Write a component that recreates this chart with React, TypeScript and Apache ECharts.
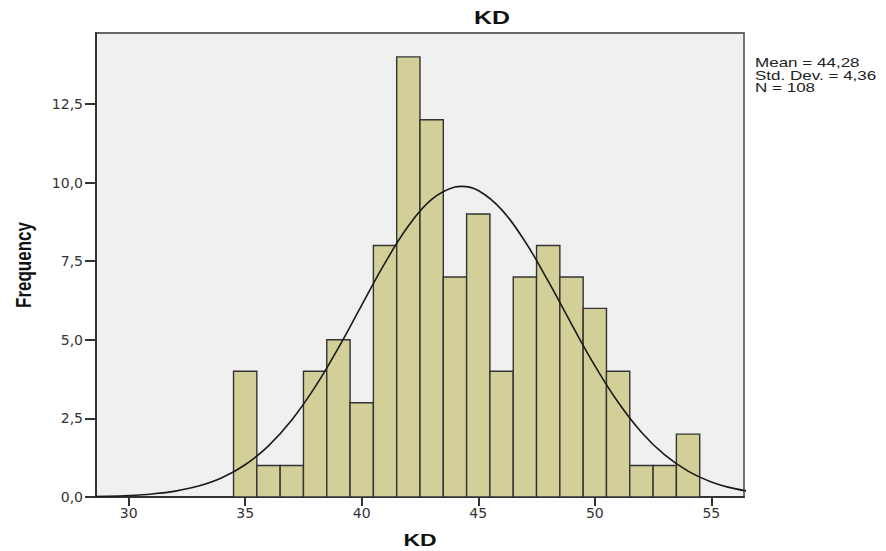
import React, { useEffect, useRef } from "react";
import * as echarts from "echarts";

// Histogram bins (bin centre, frequency)
const binCenters = [35, 36, 37, 38, 39, 40, 41, 42, 43, 44, 45, 46, 47, 48, 49, 50, 51, 52, 53, 54];
const binCounts = [4, 1, 1, 4, 5, 3, 8, 14, 12, 7, 9, 4, 7, 8, 7, 6, 4, 1, 1, 2];

// Fitted normal curve
const curveX = [28, 29, 30, 31, 32, 33, 34, 35, 36, 37, 38, 39, 40, 41, 42, 43, 44, 44.28, 45, 46, 47, 48, 49, 50, 51, 52, 53, 54, 55, 56, 57];
const curveY = [0.009, 0.021, 0.046, 0.096, 0.187, 0.348, 0.613, 1.026, 1.628, 2.451, 3.502, 4.747, 6.104, 7.447, 8.619, 9.465, 9.862, 9.882, 9.748, 9.142, 8.135, 6.867, 5.5, 4.179, 3.013, 2.061, 1.337, 0.823, 0.481, 0.267, 0.14];

const xTicks = [30, 35, 40, 45, 50, 55];
const yTicks = [0, 2.5, 5, 7.5, 10, 12.5];
const statsLines = ["Mean = 44,28", "Std. Dev. = 4,36", "N = 108"];
const titleText = "KD";
const xName = "KD";
const yName = "Frequency";

const FONT = "'Liberation Sans', Arial, sans-serif";
const TICKFONT = "'DejaVu Sans', 'Liberation Sans', sans-serif";

export default function App() {
  const ref = useRef<HTMLDivElement>(null);
  useEffect(() => {
    if (!ref.current) return;
    const chart = echarts.init(ref.current, null, { renderer: "svg" });
    const barData = binCenters.map((c, i) => [c, binCounts[i]]);
    const curveData = curveX.map((x, i) => [x, curveY[i]]);
    chart.setOption({
      animation: false,
      backgroundColor: "#ffffff",
      textStyle: { fontFamily: FONT },
      grid: {
        left: 96,
        top: 33,
        right: 142,
        bottom: 54,
        show: true,
        backgroundColor: "#f0f0f0",
        borderColor: "#666",
        borderWidth: 1.8,
      },
      xAxis: {
        type: "value",
        min: 28.6,
        max: 56.4,
        axisLine: { show: true, onZero: false, lineStyle: { color: "#333", width: 2 } },
        axisTick: { show: true, length: 9, customValues: xTicks, lineStyle: { color: "#333", width: 2 } },
        axisLabel: {
          customValues: xTicks,
          color: "#333",
          fontSize: 14,
          fontFamily: TICKFONT,
          margin: 9,
        },
        splitLine: { show: false },
      },
      yAxis: {
        type: "value",
        min: 0,
        max: 14.76,
        axisLine: { show: true, lineStyle: { color: "#333", width: 2 } },
        axisTick: { show: true, length: 11, customValues: yTicks, lineStyle: { color: "#333", width: 2 } },
        axisLabel: {
          customValues: yTicks,
          color: "#333",
          fontSize: 14,
          fontFamily: TICKFONT,
          margin: 13,
          formatter: (v: number) => v.toFixed(1).replace(".", ","),
        },
        splitLine: { show: false },
      },
      series: [
        {
          type: "custom",
          data: barData,
          encode: { x: 0, y: 1 },
          renderItem: (params: any, api: any) => {
            const c = api.value(0);
            const v = api.value(1);
            const p0 = api.coord([c - 0.5, v]);
            const p1 = api.coord([c + 0.5, 0]);
            return {
              type: "rect",
              shape: { x: p0[0], y: p0[1], width: p1[0] - p0[0], height: p1[1] - p0[1] },
              style: { fill: "#d3cf98", stroke: "#333", lineWidth: 1.4 },
            };
          },
          z: 2,
        },
        {
          type: "line",
          data: curveData,
          smooth: 0.4,
          showSymbol: false,
          symbol: "none",
          clip: true,
          lineStyle: { color: "#1a1a1a", width: 1.6 },
          z: 3,
        },
      ],
      graphic: [
        {
          type: "text",
          x: 492,
          y: 18,
          scaleX: 1.38,
          style: {
            text: titleText,
            font: `bold 18px ${FONT}`,
            fill: "#111",
            textAlign: "center",
            textVerticalAlign: "middle",
          },
        },
        {
          type: "text",
          x: 420,
          y: 540,
          scaleX: 1.35,
          style: {
            text: xName,
            font: `bold 17px ${FONT}`,
            fill: "#111",
            textAlign: "center",
            textVerticalAlign: "middle",
          },
        },
        {
          type: "text",
          x: 23,
          y: 265,
          rotation: Math.PI / 2,
          scaleY: 1.3,
          style: {
            text: yName,
            font: `bold 17px ${FONT}`,
            fill: "#111",
            textAlign: "center",
            textVerticalAlign: "middle",
          },
        },
        {
          type: "text",
          x: 755,
          y: 57,
          scaleX: 1.42,
          style: {
            text: statsLines.join("\n"),
            font: `12px ${FONT}`,
            lineHeight: 12.5,
            fill: "#222",
            textAlign: "left",
            textVerticalAlign: "top",
          },
        },
      ],
    });
    return () => chart.dispose();
  }, []);
  return (
    <div
      ref={ref}
      style={{ position: "fixed", left: 0, top: 0, width: 886, height: 551, background: "#fff" }}
    />
  );
}
